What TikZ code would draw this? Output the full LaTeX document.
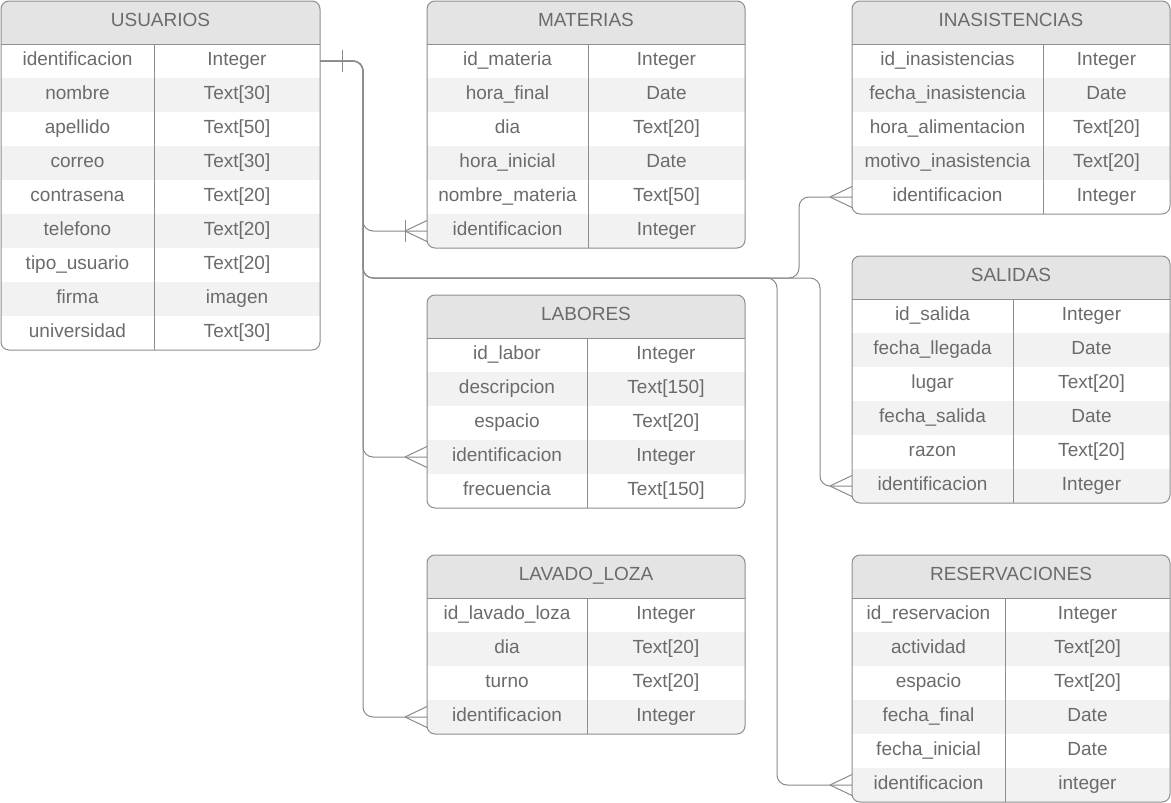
\documentclass[tikz,border=0pt]{standalone}
\usepackage{fontspec}
\setmainfont{Liberation Sans}
\definecolor{txt}{HTML}{6B6B6B}
\definecolor{bd}{HTML}{8E8E8E}
\definecolor{ln}{HTML}{8A8A8A}
\definecolor{hdr}{HTML}{E4E4E4}
\definecolor{stripe}{HTML}{F2F2F2}
\tikzset{
  cell/.style={text=txt, font=\fontsize{19}{22}\selectfont, inner sep=0pt, anchor=base},
  tbl/.style={draw=bd, line width=1pt},
  conn/.style={draw=ln, line width=1pt, rounded corners=10pt},
  crowlines/.style={draw=ln, line width=1pt},
}
% #1 name, #2 title, #3 x0, #4 y0, #5 x1, #6 divider x, #7 y1, #8 rows
\newcommand\ertable[8]{%
  \begin{scope}
    \clip[rounded corners=8pt] (#3,#4) rectangle (#5,#7);
    \fill[hdr] (#3,#4) rectangle (#5,#4+43);
    \foreach \a/\b [count=\i] in {#8} {
      \ifodd\i\relax\else
        \fill[stripe] (#3,{#4+43+(\i-1)*34}) rectangle (#5,{#4+43+\i*34});
      \fi
    }
  \end{scope}
  \draw[tbl] (#3,#4+43) -- (#5,#4+43);
  \draw[tbl] (#6,#4+43) -- (#6,#7);
  \draw[tbl, rounded corners=8pt] (#3,#4) rectangle (#5,#7);
  \node[cell] (#1-title) at ({(#3+#5)/2},#4+25.5) {#2};
  \foreach \a/\b [count=\i] in {#8} {
    \pgfmathsetmacro\yc{#4+43+(\i-0.5)*34}
    \pgfmathsetmacro\yb{\yc+4.2}
    \node[cell] (#1-\i-k) at ({(#3+#6)/2},\yb) {\a};
    \node[cell] (#1-\i-t) at ({(#6+#5)/2},\yb) {\b};
    \coordinate (#1-\i-W) at (#3,\yc);
    \coordinate (#1-\i-E) at (#5,\yc);
  }
}
\newcommand\crowat[1]{%
  \draw[crowlines, shift={(#1)}] (-22,0) -- (0,-10.5) (-22,0) -- (0,10.5);
}
\begin{document}
\begin{tikzpicture}[x=1pt,y=-1pt]
\useasboundingbox (0,0) rectangle (1171,803);
\fill[white] (0,0) rectangle (1171,803);

\ertable{usuarios}{USUARIOS}{1}{1}{320}{154}{350}{identificacion/Integer, nombre/Text[30], apellido/Text[50], correo/Text[30], contrasena/Text[20], telefono/Text[20], tipo\_usuario/Text[20], firma/imagen, universidad/Text[30]}
\ertable{materias}{MATERIAS}{427}{1}{745}{588}{248}{id\_materia/Integer, hora\_final/Date, dia/Text[20], hora\_inicial/Date, nombre\_materia/Text[50], identificacion/Integer}
\ertable{inasistencias}{INASISTENCIAS}{852}{1}{1170}{1043}{214}{id\_inasistencias/Integer, fecha\_inasistencia/Date, hora\_alimentacion/Text[20], motivo\_inasistencia/Text[20], identificacion/Integer}
\ertable{salidas}{SALIDAS}{852}{256}{1170}{1013}{503}{id\_salida/Integer, fecha\_llegada/Date, lugar/Text[20], fecha\_salida/Date, razon/Text[20], identificacion/Integer}
\ertable{labores}{LABORES}{427}{295}{745}{587}{508}{id\_labor/Integer, descripcion/Text[150], espacio/Text[20], identificacion/Integer, frecuencia/Text[150]}
\ertable{lavado}{LAVADO\_LOZA}{427}{555}{745}{587}{734}{id\_lavado\_loza/Integer, dia/Text[20], turno/Text[20], identificacion/Integer}
\ertable{reservaciones}{RESERVACIONES}{852}{555}{1170}{1005}{802}{id\_reservacion/Integer, actividad/Text[20], espacio/Text[20], fecha\_final/Date, fecha\_inicial/Date, identificacion/integer}

\coordinate (jR) at (777,278);
\coordinate (jI) at (799,278);
\coordinate (jS) at (820,278);

% connectors
\draw[conn] (usuarios-1-E) -- ++(43,0) |- (materias-6-W);
\draw[conn] (usuarios-1-E) -- ++(43,0) |- (labores-4-W);
\draw[conn] (usuarios-1-E) -- ++(43,0) |- (lavado-4-W);
\draw[conn] (usuarios-1-E) -- ++(43,0) |- (jI) |- (inasistencias-5-W);
\draw[conn] (usuarios-1-E) -- ++(43,0) |- (jS) |- (salidas-6-W);
\draw[conn] (usuarios-1-E) -- ++(43,0) |- (jR) |- (reservaciones-6-W);

% one marker at USUARIOS
\draw[crowlines, shift={(usuarios-1-E)}] (22,-11) -- (22,11);
% MATERIAS: bar + crow
\crowat{materias-6-W}
\draw[crowlines, shift={(materias-6-W)}] (-22,-11) -- (-22,11);
\crowat{labores-4-W}
\crowat{lavado-4-W}
\crowat{inasistencias-5-W}
\crowat{salidas-6-W}
\crowat{reservaciones-6-W}
\end{tikzpicture}
\end{document}
